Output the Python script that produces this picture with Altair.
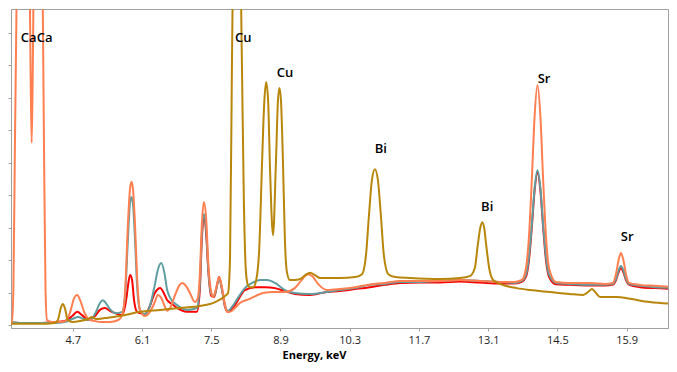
import altair as alt
import pandas as pd

# ---- data (energy in keV, intensity in arbitrary counts) ----
gold_kev = [3.29, 3.63, 4.04, 4.34, 4.40, 4.46, 4.50, 4.54, 4.60, 4.69, 4.85, 5.01, 5.09, 5.17, 5.35,
            5.66, 6.06, 6.47, 6.87, 7.27, 7.58, 7.78, 7.84, 7.88, 7.92, 8.02, 8.12, 8.16, 8.20, 8.24,
            8.28, 8.35, 8.41, 8.47, 8.53, 8.57, 8.61, 8.65, 8.69, 8.75, 8.81, 8.85, 8.88, 8.91, 8.95,
            8.99, 9.03, 9.09, 9.19, 9.30, 9.40, 9.50, 9.60, 9.70, 9.90, 10.10, 10.41, 10.55, 10.63,
            10.69, 10.75, 10.81, 10.87, 10.93, 10.99, 11.08, 11.22, 11.52, 12.13, 12.53, 12.73, 12.83,
            12.89, 12.94, 12.98, 13.02, 13.06, 13.12, 13.20, 13.34, 13.68, 13.95, 14.35, 14.75, 15.02,
            15.12, 15.20, 15.28, 15.36, 15.70, 15.97, 16.37, 16.90]
gold_cnt = [5, 5, 5, 8, 17, 54, 66, 54, 17, 11, 14, 20, 26, 20, 23,
            29, 42, 48, 54, 60, 72, 91, 100, 202, 817, 1771, 817, 386, 171, 125,
            118, 118, 140, 232, 509, 678, 749, 694, 478, 278, 509, 694, 731, 694, 509,
            263, 165, 140, 140, 143, 155, 162, 155, 146, 146, 146, 149, 158, 217,
            340, 448, 481, 448, 340, 217, 158, 149, 146, 143, 146, 152, 177,
            248, 300, 318, 300, 248, 177, 140, 128, 115, 109, 103, 97, 94,
            103, 112, 100, 88, 88, 82, 72, 66]

coral_kev = [3.29, 3.35, 3.41, 3.47, 3.50, 3.53, 3.57, 3.70, 3.83, 3.85, 3.87, 3.89, 3.91, 4.02, 4.09,
             4.12, 4.15, 4.18, 4.28, 4.44, 4.56, 4.65, 4.73, 4.79, 4.85, 4.93, 5.05, 5.15, 5.25, 5.45,
             5.62, 5.70, 5.76, 5.82, 5.86, 5.89, 5.92, 5.96, 6.00, 6.06, 6.16, 6.26, 6.36, 6.42, 6.49,
             6.55, 6.61, 6.67, 6.77, 6.85, 6.91, 6.99, 7.07, 7.17, 7.23, 7.27, 7.31, 7.35, 7.40, 7.44,
             7.50, 7.54, 7.60, 7.66, 7.72, 7.78, 7.82, 7.88, 7.98, 8.08, 8.28, 8.55, 8.75, 8.99, 9.19,
             9.30, 9.40, 9.46, 9.54, 9.66, 9.84, 10.10, 10.41, 10.65, 11.01, 11.32, 11.72, 12.13, 12.53,
             12.94, 13.34, 13.64, 13.78, 13.865, 13.925, 13.986, 14.037, 14.097, 14.158, 14.208, 14.269,
             14.330, 14.47, 14.75, 15.16, 15.46, 15.624, 15.684, 15.735, 15.785, 15.836, 15.886, 15.947,
             16.17, 16.47, 16.90]
coral_cnt = [35, 23, 8, 11, 109, 540, 1063, 2232, 1063, 755, 562, 755, 1063, 1925, 1063,
             540, 109, 17, 11, 11, 14, 42, 85, 94, 78, 42, 17, 14, 11, 11,
             17, 32, 109, 325, 423, 442, 417, 309, 155, 48, 29, 42, 72, 94, 85,
             63, 45, 54, 94, 122, 131, 122, 100, 72, 85, 155, 309, 380, 325, 196,
             103, 88, 115, 149, 115, 63, 42, 42, 54, 69, 82, 100, 103, 103, 115,
             134, 152, 158, 152, 128, 109, 112, 118, 125, 131, 137, 137, 137, 140,
             137, 134, 134, 140, 177, 274, 460, 638, 740, 638, 460, 274,
             177, 134, 131, 131, 128, 131, 158, 200, 223, 200, 158, 131,
             125, 122, 118]

teal_kev = [3.29, 3.43, 3.63, 4.04, 4.34, 4.54, 4.69, 4.81, 4.93, 5.05, 5.17, 5.25, 5.31, 5.37, 5.45,
            5.56, 5.70, 5.76, 5.82, 5.86, 5.89, 5.92, 5.96, 6.00, 6.06, 6.16, 6.26, 6.36, 6.42, 6.49,
            6.55, 6.61, 6.67, 6.81, 7.01, 7.21, 7.27, 7.31, 7.35, 7.40, 7.44, 7.50, 7.56, 7.62, 7.66,
            7.72, 7.78, 7.84, 7.92, 8.04, 8.18, 8.33, 8.49, 8.63, 8.79, 8.99, 9.19, 9.50, 9.84, 10.10,
            10.41, 10.71, 11.01, 11.32, 11.72, 12.13, 12.53, 12.94, 13.34, 13.64, 13.78, 13.865, 13.925,
            13.986, 14.037, 14.097, 14.158, 14.208, 14.269, 14.330, 14.47, 14.75, 15.16, 15.46, 15.624,
            15.684, 15.735, 15.785, 15.836, 15.886, 15.947, 16.17, 16.47, 16.90]
teal_cnt = [14, 11, 8, 8, 8, 11, 20, 26, 20, 17, 42, 69, 78, 69, 51,
            38, 42, 94, 278, 380, 395, 371, 263, 125, 48, 35, 60, 125, 171, 192,
            165, 109, 85, 63, 48, 54, 125, 278, 343, 288, 177, 97, 91, 125, 146,
            109, 60, 45, 57, 85, 115, 131, 140, 140, 131, 109, 100, 97, 103, 109,
            115, 125, 128, 134, 134, 137, 140, 137, 134, 131, 137, 157, 212,
            318, 420, 478, 420, 318, 212, 157, 131, 128, 125, 125, 128,
            144, 169, 183, 169, 144, 128, 122, 118, 115]

red_kev = [3.29, 3.63, 4.04, 4.34, 4.54, 4.69, 4.79, 4.89, 5.01, 5.15, 5.25, 5.35, 5.45, 5.56, 5.70,
           5.78, 5.82, 5.86, 5.90, 5.94, 6.00, 6.06, 6.16, 6.26, 6.36, 6.42, 6.47, 6.53, 6.61, 6.71,
           6.81, 7.01, 7.21, 7.27, 7.31, 7.35, 7.40, 7.44, 7.50, 7.56, 7.62, 7.66, 7.72, 7.78, 7.84,
           7.98, 8.18, 8.39, 8.59, 8.79, 8.99, 9.19, 9.50, 9.84, 10.10, 10.41, 10.71, 11.01, 11.32,
           11.72, 12.13, 12.53, 12.94, 13.34, 13.64, 13.78, 13.865, 13.925, 13.986, 14.037, 14.097,
           14.158, 14.208, 14.269, 14.330, 14.47, 14.75, 15.16, 15.46, 15.624, 15.684, 15.735, 15.785,
           15.836, 15.886, 15.947, 16.17, 16.47, 16.90]
red_cnt = [11, 8, 8, 11, 14, 29, 42, 32, 17, 29, 48, 54, 45, 38, 32,
           78, 125, 155, 140, 78, 42, 38, 35, 60, 100, 112, 115, 103, 78, 66,
           54, 42, 42, 109, 263, 337, 278, 171, 91, 88, 125, 149, 109, 57, 42,
           63, 109, 118, 118, 115, 106, 97, 94, 103, 106, 112, 118, 125, 131,
           132, 132, 135, 132, 129, 129, 134, 150, 201, 309, 412, 470,
           412, 309, 201, 150, 127, 125, 123, 123, 126, 140, 163, 177,
           163, 140, 126, 118, 115, 112]

peak_labels = ["Ca", "Ca", "Cu", "Cu", "Bi", "Bi", "Sr", "Sr"]
peak_kev = [3.81, 4.13, 8.15, 8.99, 10.93, 13.08, 14.23, 15.91]
peak_cnt = [885, 885, 885, 777, 542, 365, 758, 272]

x_ticks = [4.7, 6.1, 7.5, 8.9, 10.3, 11.7, 13.1, 14.5, 15.9]
y_ticks = [0, 100, 200, 300, 400, 500, 600, 700, 800, 900]

series = [
    ("red", red_kev, red_cnt, "#FF0000"),
    ("teal", teal_kev, teal_cnt, "#5F9EA0"),
    ("coral", coral_kev, coral_cnt, "#FF7F50"),
    ("gold", gold_kev, gold_cnt, "#B8860B"),
]

FONT = "Open Sans"
x_scale = alt.Scale(domain=[3.452, 16.736], nice=False, zero=False)
y_scale = alt.Scale(domain=[-7.7, 973.8], nice=False, zero=False)

x_axis = alt.Axis(values=x_ticks, format=".1f", title="Energy, keV", grid=False,
                  labelFont=FONT, labelFontSize=11, labelColor="#222", labelPadding=3,
                  tickSize=3, tickColor="#a0a0a0", domainColor="#a0a0a0",
                  titleFont=FONT, titleFontSize=11, titleFontWeight="bold", titleColor="#000",
                  titleX=303, titleY=30, titleBaseline="alphabetic", titleAlign="center")
y_axis = alt.Axis(values=y_ticks, labels=False, title=None, grid=False, tickSize=3,
                  tickColor="#a0a0a0", domainColor="#a0a0a0")

X = alt.X("Energy:Q", scale=x_scale, axis=x_axis)
Y = alt.Y("Counts:Q", scale=y_scale, axis=y_axis)

layers = []
for name, kev, cnt, col in series:
    df = pd.DataFrame({"Energy": kev, "Counts": cnt})
    layers.append(
        alt.Chart(df).mark_line(color=col, strokeWidth=2, interpolate="monotone", clip=True).encode(x=X, y=Y)
    )

lab_df = pd.DataFrame({"Energy": peak_kev, "Counts": peak_cnt, "Label": peak_labels})
layers.append(
    alt.Chart(lab_df).mark_text(font=FONT, fontSize=13, fontWeight=600, color="#000",
                                baseline="middle", align="center").encode(
        x=X, y=Y, text="Label:N"
    )
)

chart = alt.layer(*layers).properties(
    width=657, height=319,
    padding={"left": 3, "top": 1, "right": 1, "bottom": 35},
    autosize=alt.AutoSizeParams(type="none"),
).configure_view(stroke="#a0a0a0", strokeWidth=1)

chart.save("out.html", embed_options={"renderer": "svg", "actions": False})
